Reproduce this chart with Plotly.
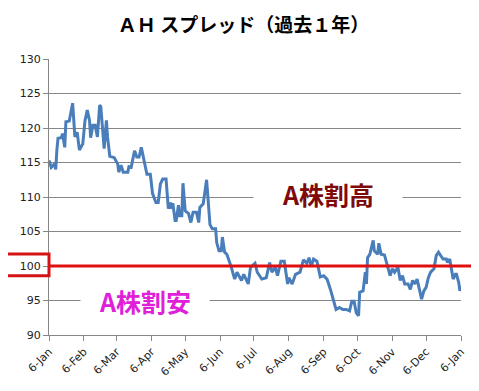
import plotly.graph_objects as go

dates = [
    "2012-01-06", "2012-01-08", "2012-01-11", "2012-01-12", "2012-01-13", "2012-01-14",
    "2012-01-17", "2012-01-18", "2012-01-20", "2012-01-21", "2012-01-24", "2012-01-27",
    "2012-01-29", "2012-01-31", "2012-02-02", "2012-02-05", "2012-02-07", "2012-02-09",
    "2012-02-11", "2012-02-12", "2012-02-14", "2012-02-16", "2012-02-18", "2012-02-20",
    "2012-02-21", "2012-02-24", "2012-02-26", "2012-02-27", "2012-02-29", "2012-03-04",
    "2012-03-07", "2012-03-08", "2012-03-10", "2012-03-12", "2012-03-16", "2012-03-17",
    "2012-03-19", "2012-03-22", "2012-03-24", "2012-03-26", "2012-03-28", "2012-03-31",
    "2012-04-02", "2012-04-05", "2012-04-07", "2012-04-10", "2012-04-12", "2012-04-14",
    "2012-04-16", "2012-04-19", "2012-04-20", "2012-04-21", "2012-04-23", "2012-04-24",
    "2012-04-25", "2012-04-27", "2012-04-28", "2012-04-30", "2012-05-01", "2012-05-03",
    "2012-05-04", "2012-05-06", "2012-05-09", "2012-05-11", "2012-05-13", "2012-05-16",
    "2012-05-18", "2012-05-19", "2012-05-22", "2012-05-25", "2012-05-28", "2012-05-30",
    "2012-06-02", "2012-06-03", "2012-06-05", "2012-06-07", "2012-06-08", "2012-06-10",
    "2012-06-12", "2012-06-14", "2012-06-16", "2012-06-18", "2012-06-19", "2012-06-21",
    "2012-06-24", "2012-06-25", "2012-06-27", "2012-06-29", "2012-07-01", "2012-07-03",
    "2012-07-07", "2012-07-09", "2012-07-13", "2012-07-17", "2012-07-20", "2012-07-22",
    "2012-07-25", "2012-07-27", "2012-07-30", "2012-08-02", "2012-08-05", "2012-08-06",
    "2012-08-09", "2012-08-12", "2012-08-16", "2012-08-19", "2012-08-22", "2012-08-24",
    "2012-08-26", "2012-08-28", "2012-08-31", "2012-09-03", "2012-09-06", "2012-09-09",
    "2012-09-12", "2012-09-17", "2012-09-20", "2012-09-23", "2012-09-26", "2012-09-29",
    "2012-10-01", "2012-10-03", "2012-10-05", "2012-10-07", "2012-10-08", "2012-10-11",
    "2012-10-13", "2012-10-14", "2012-10-15", "2012-10-17", "2012-10-20", "2012-10-21",
    "2012-10-24", "2012-10-25", "2012-10-27", "2012-10-30", "2012-11-02", "2012-11-04",
    "2012-11-06", "2012-11-08", "2012-11-11", "2012-11-13", "2012-11-15", "2012-11-17",
    "2012-11-20", "2012-11-22", "2012-11-24", "2012-11-26", "2012-11-28", "2012-11-30",
    "2012-12-02", "2012-12-04", "2012-12-06", "2012-12-08", "2012-12-10", "2012-12-13",
    "2012-12-15", "2012-12-17", "2012-12-19", "2012-12-21", "2012-12-24", "2012-12-25",
    "2012-12-27", "2012-12-28", "2012-12-30", "2013-01-01", "2013-01-02", "2013-01-04",
    "2013-01-05", "2013-01-06",
]

spread = [
    115.3, 114.3, 114.8, 114.0, 116.8, 118.5,
    118.6, 119.2, 117.2, 120.9, 121.0, 123.6,
    118.7, 119.4, 116.8, 117.7, 121.1, 122.6,
    121.1, 118.6, 120.4, 120.4, 118.7, 123.3,
    123.1, 117.0, 121.1, 118.7, 115.9, 115.7,
    114.8, 113.6, 114.6, 113.6, 113.6, 114.4,
    114.3, 116.7, 115.8, 115.8, 117.2, 115.1,
    113.3, 113.3, 110.5, 109.2, 109.2, 111.9,
    112.6, 112.6, 109.7, 108.3, 109.2, 108.3,
    109.1, 106.6, 106.6, 108.8, 107.3, 107.3,
    112.0, 108.0, 107.6, 106.3, 107.8, 107.8,
    106.3, 108.5, 109.0, 112.5, 106.0, 105.4,
    105.4, 103.4, 102.2, 102.2, 104.2, 102.0,
    101.7, 100.8, 99.8, 98.6, 98.1, 99.1,
    98.3, 97.9, 98.8, 98.1, 97.4, 99.8,
    100.4, 99.1, 98.1, 98.3, 100.5, 99.1,
    99.8, 98.6, 100.7, 100.7, 97.4, 98.3,
    97.4, 98.8, 99.1, 100.9, 100.4, 101.2,
    99.9, 101.0, 100.7, 98.4, 98.6, 98.1,
    96.6, 93.7, 94.0, 93.7, 93.7, 93.5,
    94.9, 94.9, 93.2, 92.8, 96.2, 96.4,
    99.1, 97.4, 101.2, 101.7, 103.7, 102.2,
    101.7, 103.3, 101.7, 101.6, 100.0, 98.6,
    99.6, 99.1, 99.8, 97.9, 98.6, 97.4,
    97.4, 96.6, 97.9, 97.4, 98.1, 96.6,
    95.2, 96.4, 96.9, 98.3, 99.1, 99.6,
    101.5, 102.0, 101.5, 101.0, 101.0, 100.5,
    101.0, 99.8, 98.1, 98.8, 98.8, 97.6,
    96.4, 97.1,
]

tick_dates = [
    "2012-01-06", "2012-02-06", "2012-03-06", "2012-04-06", "2012-05-06", "2012-06-06",
    "2012-07-06", "2012-08-06", "2012-09-06", "2012-10-06", "2012-11-06", "2012-12-06",
    "2013-01-06",
]
tick_labels = ["6-Jan", "6-Feb", "6-Mar", "6-Apr", "6-May", "6-Jun", "6-Jul",
               "6-Aug", "6-Sep", "6-Oct", "6-Nov", "6-Dec", "6-Jan"]

title_text = "ＡＨ スプレッド（過去１年）"
label_high = "A株割高"
label_low = "A株割安"
threshold = 100
y_min, y_max = 90, 130

# the page body adds an 8px margin, so the figure is sized to fit the window
W, H = 471, 383

fig = go.Figure()
fig.add_trace(go.Scatter(
    x=dates, y=spread, mode="lines",
    line=dict(color="#4A7EBB", width=3),
    showlegend=False, hoverinfo="skip",
))

def py(v):
    return (v - y_min) / (y_max - y_min)

fig.add_shape(type="line", xref="paper", yref="paper",
              x0=0, x1=1.037, y0=py(threshold), y1=py(threshold),
              line=dict(color="#E01010", width=3), layer="above")
fig.add_shape(type="rect", xref="paper", yref="paper",
              x0=-0.104, x1=0.0, y0=py(98.6), y1=py(101.75),
              line=dict(color="#D41414", width=3), layer="above")

fig.add_annotation(text="<b>" + label_high + "</b>", xref="paper", yref="y",
                   x=0.676, y=110.5, xanchor="center", yanchor="middle",
                   showarrow=False,
                   font=dict(family="Noto Sans CJK JP", size=25, color="#7F0A0A"),
                   bgcolor="white", width=148, borderpad=0)
fig.add_annotation(text="<b>" + label_low + "</b>", xref="paper", yref="y",
                   x=0.233, y=95.0, xanchor="center", yanchor="middle",
                   showarrow=False,
                   font=dict(family="Noto Sans CJK JP", size=25, color="#E020D8"),
                   bgcolor="white", width=128, borderpad=0)

fig.update_layout(
    width=W, height=H,
    margin=dict(l=40, r=16, t=51, b=49),
    paper_bgcolor="white", plot_bgcolor="white",
    title=dict(text="<b>" + title_text + "</b>", x=0.5, xanchor="center",
               y=1 - 17 / H, yanchor="middle",
               font=dict(family="Noto Sans CJK JP", size=19, color="black")),
    font=dict(family="DejaVu Sans", size=11, color="#222222"),
)
fig.update_xaxes(
    type="date", range=[tick_dates[0], tick_dates[-1]],
    tickmode="array", tickvals=tick_dates, ticktext=tick_labels,
    tickangle=-45, ticks="outside", ticklen=5, tickcolor="#868686",
    showline=True, linecolor="#868686", linewidth=1,
    showgrid=False, zeroline=False,
    tickfont=dict(family="DejaVu Sans", size=11, color="#222222"),
)
fig.update_yaxes(
    range=[y_min, y_max], dtick=5, tick0=90,
    ticks="outside", ticklen=5, tickcolor="#868686",
    showline=True, linecolor="#868686", linewidth=1,
    showgrid=True, gridcolor="#868686", gridwidth=1, zeroline=False,
    tickfont=dict(family="DejaVu Sans", size=11, color="#222222"),
)

fig.write_html("out.html")
